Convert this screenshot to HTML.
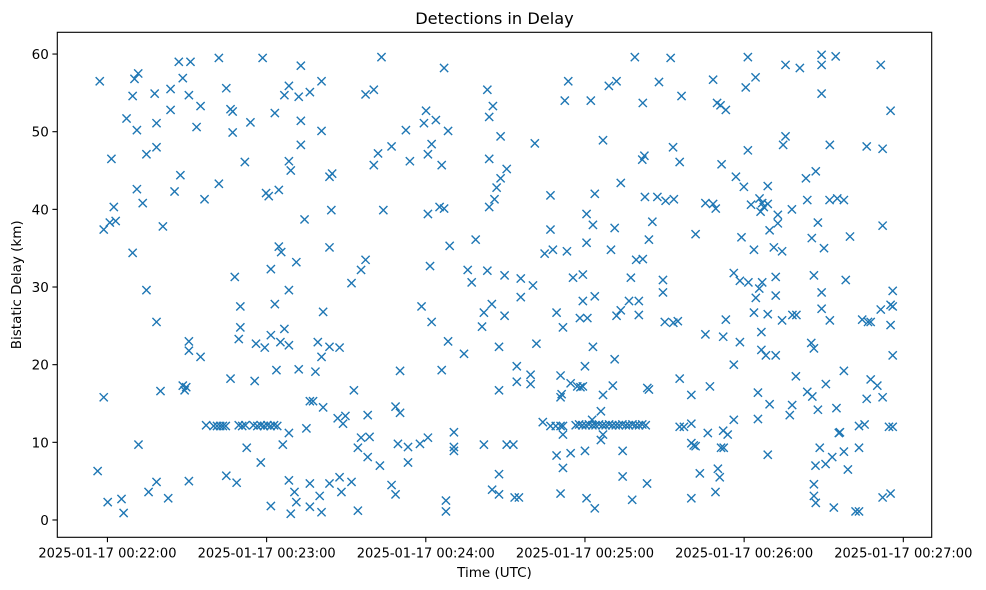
<!DOCTYPE html>
<html>
<head>
<meta charset="utf-8">
<style>
html,body{margin:0;padding:0;background:#fff;}
svg{display:block;font-family:"DejaVu Sans","Liberation Sans",sans-serif;}
</style>
</head>
<body>
<svg id="chart" width="986" height="590" viewBox="0 0 986 590" xmlns="http://www.w3.org/2000/svg">
  <rect x="0" y="0" width="986" height="590" fill="#fff"/>
  <text x="494.5" y="24" font-size="16.2" text-anchor="middle" fill="#000">Detections in Delay</text>
  <g id="marks"></g>
  <g id="axes"></g>
  <rect x="57.3" y="32.3" width="874.4" height="505" fill="none" stroke="#000" stroke-width="1.1"/>
  <text x="494.5" y="577" font-size="13.5" text-anchor="middle" fill="#000">Time (UTC)</text>
  <text x="0" y="0" font-size="13.5" text-anchor="middle" fill="#000" transform="translate(21,284.8) rotate(-90)">Bistatic Delay (km)</text>
</svg>
<script>
// Time offsets in seconds from 2025-01-17 00:22:00 UTC
const times = [
-2.9,11.6,10.2,26.9,31.3,42.0,28.4,9.5,17.8,23.8,30.7,35.1,23.8,7.2,18.5,11.1,33.6,1.5,14.7,18.5,27.5,11.1,25.3,42.0,36.6,2.4,13.3,0.9,3.1,-1.4,20.9,9.5,14.7,18.5,30.7,30.7,35.1,-1.4,20.0,28.4,29.7,29.1,37.2,40.0,41.3,42.5,11.7,-3.7,18.5,15.5,30.7,0.1,5.3,22.9,6.1,
58.5,72.9,44.8,68.4,66.7,72.1,76.3,80.7,97.3,100.4,46.4,47.2,53.9,63.1,72.9,80.7,47.2,72.9,51.8,68.4,69.1,83.7,84.7,100.4,59.8,60.8,64.6,84.4,74.3,64.6,65.5,83.7,71.2,61.6,48.0,97.3,95.6,92.0,68.4,50.1,63.1,81.3,50.1,49.5,66.7,61.6,56.0,59.3,65.2,68.4,79.3,83.7,87.5,80.7,46.4,55.5,63.7,72.1,78.4,92.9,76.3,77.5,81.3,86.8,89.7,88.8,98.1,43.5,44.6,49.5,50.8,52.0,55.0,56.5,57.8,59.0,60.3,61.5,62.8,64.0,68.4,75.0,52.5,66.1,57.8,95.6,98.8,94.4,98.1,44.8,48.7,68.4,76.3,83.7,87.5,92.0,70.5,88.2,80.0,71.2,61.6,76.3,69.1,80.7,94.4,
103.3,126.9,143.2,145.3,143.9,120.1,119.3,123.8,128.4,112.5,148.2,107.1,102.0,114.0,122.2,120.8,126.0,143.9,150.5,148.2,146.7,145.9,143.9,104.0,120.8,125.2,126.9,129.0,138.8,121.6,135.8,137.3,143.2,149.7,155.8,155.8,118.4,122.2,141.9,144.9,149.7,141.2,128.4,134.4,147.6,110.3,126.0,154.3,154.3,147.6,108.6,110.3,109.5,113.3,117.8,120.8,130.6,130.6,130.6,141.9,150.5,153.0,102.7,113.3,147.6,107.1,108.6,145.0,147.6,153.5,155.1,127.6,127.6,
198.8,212.3,173.7,189.0,191.9,207.9,216.4,172.4,182.2,201.8,161.1,186.8,213.2,202.4,201.6,215.7,193.5,167.0,183.7,202.6,207.3,210.4,213.5,180.6,183.0,191.2,167.0,205.4,204.1,180.6,164.8,167.9,173.2,189.8,199.3,201.8,160.4,175.5,179.2,197.3,209.4,209.4,179.2,183.7,196.6,200.3,169.3,178.1,180.9,191.9,193.5,200.3,210.1,213.3,215.0,171.7,161.7,183.0,191.2,180.0,159.5,159.5,170.8,174.6,177.1,178.3,179.2,190.5,171.2,170.8,186.8,203.5,204.1,215.7,186.0,164.1,
167.0,169.0,170.8,171.7,176.5,177.8,179.0,180.3,181.5,182.8,184.0,185.3,186.6,187.8,189.1,190.3,191.6,192.8,194.1,195.4,196.6,197.9,199.1,200.4,201.6,202.9,
182.7,171.7,186.8,186.0,215.7,217.3,169.3,174.6,180.0,194.2,171.7,194.2,203.4,170.8,180.6,183.7,197.8,
241.4,255.6,261.0,269.2,274.5,269.2,228.3,244.3,240.6,229.8,231.1,233.1,269.2,255.6,254.7,272.3,241.4,231.5,236.9,239.9,248.9,263.3,267.0,225.4,228.3,229.3,242.6,245.8,246.8,246.2,248.9,247.4,252.7,252.7,258.0,263.8,272.2,275.1,221.7,239.0,249.6,267.8,265.5,243.7,251.2,254.3,270.1,236.1,238.4,241.6,245.7,246.8,244.4,251.9,251.9,266.3,269.2,269.2,243.7,248.9,254.3,258.2,259.7,272.3,233.1,225.4,232.1,238.4,246.5,246.5,248.2,251.9,265.3,266.3,236.1,227.1,220.1,245.2,249.6,259.5,263.8,265.7,270.8,258.1,257.2,267.8,274.8,220.1,226.3,232.1,233.8,236.1,245.2,220.1,221.0,221.7,231.3,232.3,248.9,275.7,268.5,266.9,270.7,273.2,223.3,230.1,230.8,229.2,220.1,266.3,266.3,267.0,273.8,
291.5,295.2,286.2,292.2,277.6,292.2,279.9,278.3,296.0,295.2,296.0,291.5,284.5,286.7,287.7,295.2,296.0,277.6,287.7,290.2,286.2,292.2,276.1,283.3,285.4,294.6,296.0,277.6,283.3,279.1,292.2,295.2,282.0,283.3
];
// Bistatic delay in km
const delays = [
56.5,57.5,56.8,59.0,59.0,59.5,56.9,54.6,54.9,55.5,54.7,53.3,52.8,51.7,51.1,50.2,50.6,46.5,47.1,48.0,44.4,42.6,42.3,43.3,41.3,40.3,40.8,38.3,38.5,37.4,37.8,34.4,29.6,25.5,23.0,21.8,21.0,15.8,16.6,17.3,17.1,16.7,12.2,12.1,12.1,12.1,9.7,6.3,4.9,3.6,5.0,2.3,2.7,2.8,0.9,
59.5,58.5,55.6,55.9,54.7,54.5,55.1,56.5,54.8,55.4,52.9,52.6,51.2,52.4,51.4,50.1,49.9,48.3,46.1,46.2,45.0,44.2,44.6,45.7,42.1,41.7,42.5,39.9,38.7,35.2,34.5,35.1,33.2,32.3,31.3,33.5,32.2,30.5,29.6,27.5,27.8,26.8,24.8,23.3,24.6,23.8,22.7,22.2,22.9,22.5,22.9,22.3,22.2,21.0,18.2,17.9,19.3,19.4,19.1,16.7,15.3,15.3,14.5,13.1,13.4,12.4,13.5,12.1,12.1,12.2,12.1,12.2,12.2,12.1,12.2,12.1,12.2,12.1,12.2,12.1,11.2,11.8,9.3,9.7,7.4,10.6,10.7,9.3,8.1,5.7,4.8,5.1,4.7,4.7,5.5,4.9,3.6,3.6,3.1,2.3,1.8,1.7,0.8,1.0,1.2,
59.6,58.2,55.4,53.3,51.9,52.7,51.1,51.5,50.1,50.2,49.4,48.1,47.2,46.2,48.4,47.1,45.7,46.5,45.2,44.0,42.8,41.3,40.3,39.9,39.4,40.3,40.1,35.3,36.1,32.7,32.2,30.6,32.1,31.5,31.1,28.7,27.5,25.5,26.7,27.8,26.3,24.9,23.0,21.4,22.3,19.2,19.3,19.8,17.8,16.7,14.6,13.8,9.8,9.4,9.8,10.6,11.3,9.4,8.9,9.7,9.7,9.7,7.0,7.4,5.9,4.5,3.3,3.9,3.3,2.9,2.9,2.5,1.1,
59.6,59.5,56.5,55.9,56.5,56.4,54.6,54.0,54.0,53.7,48.5,48.9,48.0,46.9,46.4,46.1,43.4,41.8,42.0,41.6,41.6,41.1,41.3,39.4,38.0,37.6,37.4,38.4,36.1,35.7,34.3,34.8,34.6,34.8,33.5,33.6,30.2,31.2,31.6,31.2,30.9,29.3,28.2,28.8,28.2,28.2,26.7,26.0,26.0,26.3,27.0,26.4,25.5,25.4,25.6,24.8,22.7,22.3,20.7,19.8,18.7,17.5,18.6,17.6,17.2,17.1,17.2,17.3,16.2,15.8,16.1,17.0,16.8,18.2,14.0,12.6,
12.1,12.1,12.1,12.1,12.2,12.3,12.2,12.2,12.3,12.2,12.2,12.3,12.2,12.2,12.3,12.2,12.2,12.2,12.3,12.2,12.2,12.3,12.2,12.2,12.3,12.2,
12.9,11.0,11.0,10.3,12.0,12.0,8.3,8.6,8.9,8.9,6.7,5.6,4.7,3.4,2.8,1.5,2.6,
59.6,58.6,58.2,59.9,59.7,58.6,56.7,57.0,55.7,53.7,53.4,52.8,54.9,49.4,48.3,48.3,47.6,45.8,44.2,42.9,43.0,44.0,44.9,40.8,40.7,40.1,40.6,41.4,40.8,39.7,40.7,40.3,39.3,38.2,40.0,41.2,41.2,41.4,36.8,36.4,37.3,38.3,36.3,34.8,35.1,34.6,35.0,31.8,30.8,30.6,29.8,30.6,28.6,31.3,28.9,31.5,29.3,27.2,26.7,26.5,25.7,26.4,26.4,25.7,25.8,23.9,23.6,22.9,24.2,21.9,21.2,21.2,22.8,22.1,20.0,17.2,16.1,16.4,14.9,18.5,16.5,15.9,17.5,14.8,13.5,14.2,14.4,12.4,11.2,11.5,11.0,12.9,13.0,9.9,9.6,9.5,9.3,9.3,8.4,11.2,9.3,7.0,7.2,8.1,6.0,6.6,5.5,3.6,2.8,4.6,3.1,2.2,1.6,
58.6,52.7,48.1,47.8,41.2,37.9,36.5,30.9,29.5,27.7,27.5,27.1,25.8,25.5,25.5,25.1,21.2,19.2,18.1,17.3,15.6,15.8,11.3,12.1,12.3,12.0,12.0,8.8,9.3,6.5,2.9,3.4,1.1,1.1
];
const xTickValues = [0, 60, 120, 180, 240, 300];
const xTickLabels = ["2025-01-17 00:22:00","2025-01-17 00:23:00","2025-01-17 00:24:00","2025-01-17 00:25:00","2025-01-17 00:26:00","2025-01-17 00:27:00"];
const yTickValues = [0, 10, 20, 30, 40, 50, 60];
const yTickLabels = ["0","10","20","30","40","50","60"];

const NS = "http://www.w3.org/2000/svg";
const plot = {left: 57.3, right: 931.7, top: 32.3, bottom: 537.3};
const xDomain = [-18.9, 310.7];
const yDomain = [-2.23, 62.8];
function xScale(v){ return plot.left + (v - xDomain[0]) / (xDomain[1] - xDomain[0]) * (plot.right - plot.left); }
function yScale(v){ return plot.bottom - (v - yDomain[0]) / (yDomain[1] - yDomain[0]) * (plot.bottom - plot.top); }

const marks = document.getElementById("marks");
const n = Math.min(times.length, delays.length);
for (let i = 0; i < n; i++) {
  const cx = xScale(times[i]), cy = yScale(delays[i]), h = 4.1;
  const p = document.createElementNS(NS, "path");
  p.setAttribute("d", `M${cx-h},${cy-h}L${cx+h},${cy+h}M${cx-h},${cy+h}L${cx+h},${cy-h}`);
  p.setAttribute("stroke", "#1f77b4");
  p.setAttribute("stroke-width", "1.4");
  p.setAttribute("fill", "none");
  
  
  marks.appendChild(p);
}

const axes = document.getElementById("axes");
xTickValues.forEach((v, i) => {
  const x = xScale(v);
  const t = document.createElementNS(NS, "line");
  t.setAttribute("x1", x); t.setAttribute("x2", x);
  t.setAttribute("y1", plot.bottom); t.setAttribute("y2", plot.bottom + 4.9);
  t.setAttribute("stroke", "#000"); t.setAttribute("stroke-width", "1.1");
  
  
  axes.appendChild(t);
  const lb = document.createElementNS(NS, "text");
  lb.setAttribute("x", x); lb.setAttribute("y", plot.bottom + 20);
  lb.setAttribute("font-size", "13"); lb.setAttribute("text-anchor", "middle");
  lb.textContent = xTickLabels[i];
  
  
  axes.appendChild(lb);
});
yTickValues.forEach((v, i) => {
  const y = yScale(v);
  const t = document.createElementNS(NS, "line");
  t.setAttribute("x1", plot.left - 4.9); t.setAttribute("x2", plot.left);
  t.setAttribute("y1", y); t.setAttribute("y2", y);
  t.setAttribute("stroke", "#000"); t.setAttribute("stroke-width", "1.1");
  
  
  axes.appendChild(t);
  const lb = document.createElementNS(NS, "text");
  lb.setAttribute("x", plot.left - 8.5); lb.setAttribute("y", y + 5);
  lb.setAttribute("font-size", "13.5"); lb.setAttribute("text-anchor", "end");
  lb.textContent = yTickLabels[i];
  
  
  axes.appendChild(lb);
});
</script>
</body>
</html>
